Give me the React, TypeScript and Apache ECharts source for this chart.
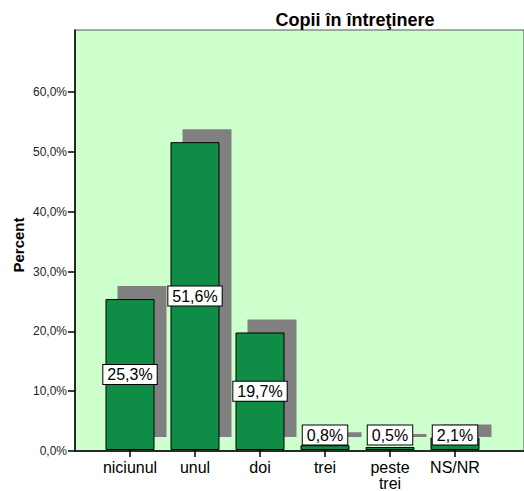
import React, { useEffect, useRef } from "react";
import * as echarts from "echarts";

const categories = ["niciunul", "unul", "doi", "trei", "peste\ntrei", "NS/NR"];
const values = [25.3, 51.6, 19.7, 0.8, 0.5, 2.1];
const yTicks = [0, 10, 20, 30, 40, 50, 60];
const titleText = "Copii în întreţinere";
const yName = "Percent";

const FONT = "Arial, 'Liberation Sans', sans-serif";
const fmt = (v: number) => v.toFixed(1).replace(".", ",") + "%";

export default function App() {
  const ref = useRef<HTMLDivElement>(null);
  useEffect(() => {
    document.body.style.margin = "0";
    const chart = echarts.init(ref.current!, null, { renderer: "svg" });
    const dataPairs = values.map((v, i) => [i, v]);
    const option: any = {
      animation: false,
      backgroundColor: "#ffffff",
      title: {
        text: titleText,
        left: 350,
        top: 6,
        textAlign: "center",
        textStyle: { fontFamily: FONT, fontSize: 18, fontWeight: "bold", color: "#000" },
      },
      graphic: [
        {
          type: "text",
          x: 18,
          y: 245,
          rotation: Math.PI / 2,
          style: {
            text: yName,
            font: `bold 15px ${FONT}`,
            fill: "#000",
            align: "center",
            verticalAlign: "middle",
          },
        },
      ],
      grid: [
        {
          left: 75,
          right: 0,
          top: 30,
          bottom: 40,
          show: true,
          backgroundColor: "#ccffcc",
          borderColor: "#555555",
          borderWidth: 1,
        },
        { left: 97.5, width: 390, top: 30, bottom: 40 },
      ],
      xAxis: [
        {
          type: "value",
          gridIndex: 0,
          min: 0,
          max: 1,
          axisLine: { show: true, lineStyle: { color: "#000", width: 1.5 } },
          axisTick: { show: false },
          axisLabel: { show: false },
          splitLine: { show: false },
        },
        {
          type: "category",
          gridIndex: 1,
          data: categories,
          axisLine: { show: false },
          axisTick: { show: true, alignWithLabel: true, length: 7, lineStyle: { color: "#000", width: 1.5 } },
          axisLabel: { color: "#000", fontFamily: FONT, fontSize: 16, margin: 9, lineHeight: 16, interval: 0 },
          splitLine: { show: false },
        },
      ],
      yAxis: [
        {
          type: "value",
          gridIndex: 0,
          min: 0,
          max: 70.4,
          interval: 10,
          axisLine: { show: true, lineStyle: { color: "#000", width: 1.5 } },
          axisTick: { show: true, length: 7, customValues: yTicks, lineStyle: { color: "#000", width: 1.5 } },
          axisLabel: {
            customValues: yTicks,
            color: "#222",
            fontFamily: FONT,
            fontSize: 12,
            margin: 8,
            formatter: (v: number) => (yTicks.indexOf(v) >= 0 ? fmt(v) : ""),
          },
          splitLine: { show: false },
        },
        { type: "value", gridIndex: 1, min: 0, max: 70.4, show: false },
      ],
      series: [
        {
          type: "custom",
          xAxisIndex: 1,
          yAxisIndex: 1,
          z: 1,
          data: dataPairs,
          renderItem: (params: any, api: any) => {
            const top = api.coord([api.value(0), api.value(1)]);
            const base = api.coord([api.value(0), 0]);
            return {
              type: "rect",
              shape: { x: top[0] - 24.5 + 12, y: top[1] - 13, width: 49, height: base[1] - top[1] },
              style: { fill: "#808080" },
            };
          },
        },
        {
          type: "bar",
          xAxisIndex: 1,
          yAxisIndex: 1,
          z: 2,
          data: values,
          barWidth: 49,
          itemStyle: { color: "#0f8c46", borderColor: "#000", borderWidth: 1 },
        },
        {
          type: "custom",
          xAxisIndex: 1,
          yAxisIndex: 1,
          z: 3,
          data: dataPairs,
          renderItem: (params: any, api: any) => {
            const top = api.coord([api.value(0), api.value(1)]);
            const base = api.coord([api.value(0), 0]);
            const cy = Math.min((top[1] + base[1]) / 2, base[1] - 15);
            return {
              type: "text",
              x: top[0],
              y: cy,
              style: {
                text: fmt(api.value(1)),
                font: `16px ${FONT}`,
                fill: "#000",
                align: "center",
                verticalAlign: "middle",
                backgroundColor: "#ffffff",
                borderColor: "#000",
                borderWidth: 1,
                padding: [1, 4],
                lineHeight: 17,
              },
            };
          },
        },
      ],
    };
    chart.setOption(option);
    return () => chart.dispose();
  }, []);
  return <div ref={ref} style={{ width: 524, height: 491 }} />;
}
